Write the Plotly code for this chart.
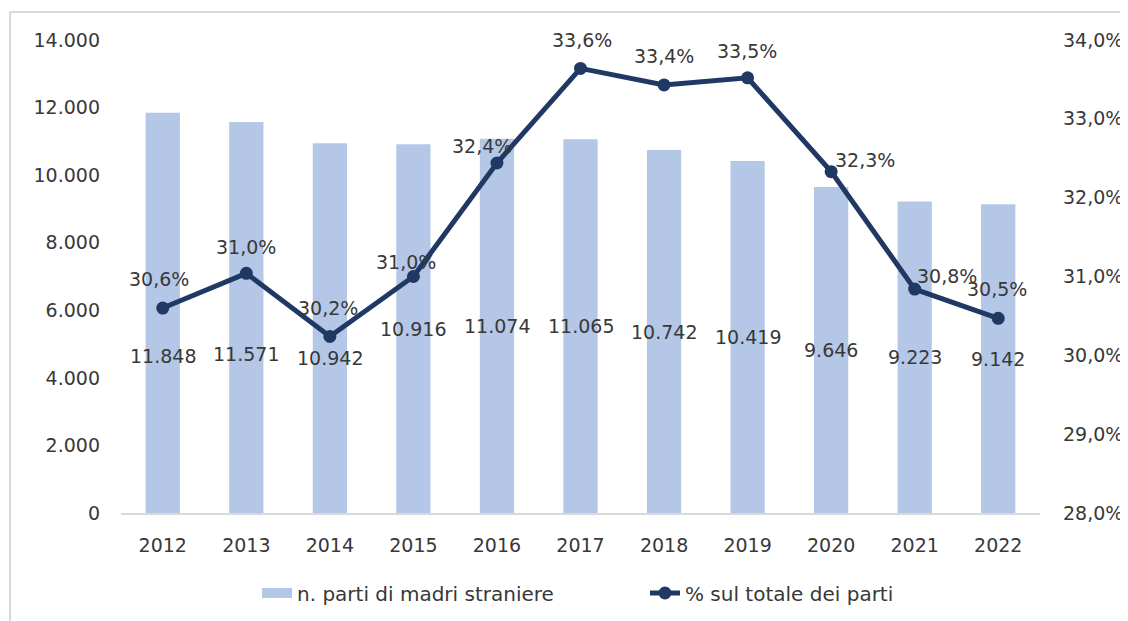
import plotly.graph_objects as go

years = ["2012", "2013", "2014", "2015", "2016", "2017", "2018", "2019", "2020", "2021", "2022"]
births = [11848, 11571, 10942, 10916, 11074, 11065, 10742, 10419, 9646, 9223, 9142]
share = [30.6, 31.04, 30.24, 31.0, 32.44, 33.64, 33.43, 33.52, 32.33, 30.84, 30.47]
left_ticks = [0, 2000, 4000, 6000, 8000, 10000, 12000, 14000]
right_ticks = [28, 29, 30, 31, 32, 33, 34]

bar_name = "n. parti di madri straniere"
line_name = "% sul totale dei parti"

FONT = "DejaVu Sans"
TXT = "#383838"
BAR_C = "#B4C7E7"
LINE_C = "#203864"
FS = 19

# label offsets (px) for value labels
bar_label_shift = [-43, -36, -30, 0, 0, 0, 0, 0, 0, 0, 0]
line_label_dx = [-4, 0, -2, -7, -15, 1, 0, -1, 34, 32, -1]
line_label_dy = [29, 26, 28, 15, 17, 28, 29, 27, 12, 13, 29]


def fmt_int(v):
    return f"{v:,}".replace(",", ".")


def fmt_pct(v):
    return f"{v:.1f}".replace(".", ",") + "%"


xi = list(range(len(years)))

fig = go.Figure()
fig.add_trace(go.Bar(
    x=xi, y=births, name=bar_name, marker=dict(color=BAR_C, line=dict(width=0)),
    showlegend=False,
))
# legend entry for the bars (wide rectangular swatch like the original)
fig.add_trace(go.Scatter(
    x=[None], y=[None], name=bar_name, mode="lines",
    line=dict(color=BAR_C, width=12), showlegend=True,
))
fig.add_trace(go.Scatter(
    x=xi, y=share, name=line_name, yaxis="y2", mode="lines+markers",
    line=dict(color=LINE_C, width=5), marker=dict(color=LINE_C, size=13),
))

for x, v, s in zip(xi, births, bar_label_shift):
    fig.add_annotation(x=x, y=v / 2, xref="x", yref="y", text=fmt_int(v), showarrow=False,
                       yshift=s, font=dict(family=FONT, size=FS, color=TXT))

for x, v, dx, dy in zip(xi, share, line_label_dx, line_label_dy):
    fig.add_annotation(x=x, y=v, xref="x", yref="y2", text=fmt_pct(v), showarrow=False,
                       xshift=dx, yshift=dy, font=dict(family=FONT, size=FS, color=TXT))

W, H = 1128, 621
L, R = 113, 1032
T, B = 32, 505
x_left = (2 - L) / (R - L)
y_top = (B - 4) / (B - T)

fig.add_shape(type="line", xref="paper", yref="paper", x0=x_left, x1=x_left, y0=-0.5, y1=y_top,
              line=dict(color="#D9D9D9", width=2))
fig.add_shape(type="line", xref="paper", yref="paper", x0=x_left, x1=1.3, y0=y_top, y1=y_top,
              line=dict(color="#D9D9D9", width=2))

fig.update_layout(
    width=W, height=H,
    margin=dict(l=L, r=W - R, t=T, b=H - B),
    paper_bgcolor="white", plot_bgcolor="white",
    font=dict(family=FONT, size=FS, color=TXT),
    bargap=0.59,
    showlegend=True,
    legend=dict(orientation="h", x=(249 - L) / (R - L), xanchor="left",
                y=(B - 585) / (B - T), yanchor="middle", entrywidth=343,
                font=dict(family=FONT, size=20, color=TXT), traceorder="normal"),
    xaxis=dict(range=[-0.5, len(years) - 0.5], tickmode="array", tickvals=xi, ticktext=years,
               showgrid=False, showline=True, linecolor="#D9D9D9", linewidth=2, zeroline=False,
               ticks="", tickfont=dict(family=FONT, size=FS, color=TXT), ticklabelstandoff=14),
    yaxis=dict(range=[0, 14000], tickmode="array", tickvals=left_ticks,
               ticktext=[fmt_int(v) for v in left_ticks], showgrid=False, showline=False,
               zeroline=False, ticks="", tickfont=dict(family=FONT, size=FS, color=TXT),
               ticklabelstandoff=20),
    yaxis2=dict(range=[28, 34], tickmode="array", tickvals=right_ticks,
                ticktext=[fmt_pct(v) for v in right_ticks], overlaying="y",
                side="right", showgrid=False, showline=False, zeroline=False, ticks="",
                tickfont=dict(family=FONT, size=FS, color=TXT), ticklabelstandoff=22),
)

fig.write_html("out.html")
